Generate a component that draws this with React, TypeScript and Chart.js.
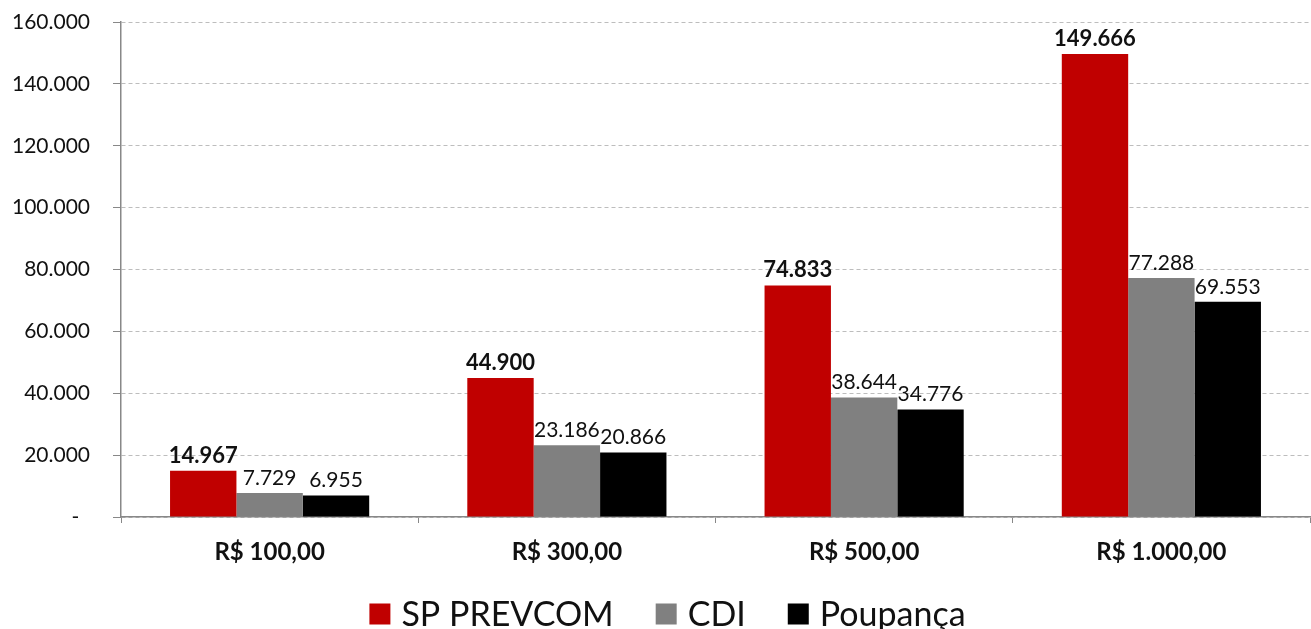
import React, { useEffect, useRef } from "react";
import { Chart, registerables } from "chart.js";

Chart.register(...registerables);

const categories = ["R$ 100,00", "R$ 300,00", "R$ 500,00", "R$ 1.000,00"];
const spPrevcom = [14967, 44900, 74833, 149666];
const cdi = [7729, 23186, 38644, 77288];
const poupanca = [6955, 20866, 34776, 69553];
const yTicks = [0, 20000, 40000, 60000, 80000, 100000, 120000, 140000, 160000];

const FONT = "Lato, 'Open Sans', sans-serif";

function fmt(v: number): string {
  const s = Math.round(v).toString();
  return s.replace(/\B(?=(\d{3})+(?!\d))/g, ".");
}

const labelPlugin = {
  id: "barLabels",
  afterDatasetsDraw(chart: any) {
    const ctx = chart.ctx;
    ctx.save();
    chart.data.datasets.forEach((ds: any, di: number) => {
      const meta = chart.getDatasetMeta(di);
      ctx.font = di === 0 ? "bold 22px " + FONT : "21px " + FONT;
      ctx.fillStyle = "#111";
      ctx.textAlign = "center";
      ctx.textBaseline = "alphabetic";
      meta.data.forEach((bar: any, i: number) => {
        ctx.fillText(fmt(ds.data[i]), bar.x, bar.y - 8);
      });
    });
    ctx.restore();
  },
};

const legendPlugin = {
  id: "customLegend",
  afterDraw(chart: any) {
    const ctx = chart.ctx;
    const box = 21;
    const gapText = 11;
    const gapItem = 42;
    ctx.save();
    ctx.font = "34px " + FONT;
    const items = chart.data.datasets.map((ds: any) => ({
      label: ds.label,
      color: ds.backgroundColor,
      w: ctx.measureText(ds.label).width,
    }));
    const total =
      items.reduce((a: number, it: any) => a + box + gapText + it.w, 0) +
      gapItem * (items.length - 1);
    const cx = chart.width / 2 + 12;
    let x = cx - total / 2;
    const yc = chart.height - 15;
    ctx.textBaseline = "middle";
    ctx.textAlign = "left";
    items.forEach((it: any) => {
      ctx.fillStyle = it.color;
      ctx.fillRect(x, yc - box / 2, box, box);
      ctx.fillStyle = "#111";
      ctx.fillText(it.label, x + box + gapText, yc + 1);
      x += box + gapText + it.w + gapItem;
    });
    ctx.restore();
  },
};

export default function App() {
  const ref = useRef<HTMLCanvasElement>(null);
  useEffect(() => {
    document.body.style.margin = "0";
    const chart = new Chart(ref.current!, {
      type: "bar",
      data: {
        labels: categories,
        datasets: [
          { label: "SP PREVCOM", data: spPrevcom, backgroundColor: "#C00000" },
          { label: "CDI", data: cdi, backgroundColor: "#808080" },
          { label: "Poupança", data: poupanca, backgroundColor: "#000000" },
        ],
      },
      options: {
        animation: false,
        responsive: false,
        maintainAspectRatio: false,
        layout: { autoPadding: false, padding: { top: 22, right: 1, left: 0, bottom: 47 } },
        datasets: { bar: { barPercentage: 1, categoryPercentage: 0.67 } },
        plugins: {
          tooltip: { enabled: false },
          legend: { display: false },
        },
        scales: {
          x: {
            grid: {
              offset: true,
              drawOnChartArea: false,
              drawTicks: true,
              tickLength: 6,
              color: "#888",
            },
            border: { display: true, color: "#888", width: 1.5 },
            ticks: {
              color: "#111",
              padding: 15,
              font: { family: FONT, size: 24, weight: "bold" },
            },
            afterFit: (s: any) => {
              s.height = 65;
              s.paddingLeft = 0;
              s.paddingRight = 0;
              s.paddingTop = 0;
              s.paddingBottom = 0;
            },
          },
          y: {
            min: 0,
            max: 160000,
            afterBuildTicks: (s: any) => {
              s.ticks = yTicks.map((v) => ({ value: v }));
            },
            grid: {
              color: "#bdbdbd",
              tickColor: "#888",
              tickLength: 8,
              lineWidth: 1,
              tickBorderDash: [1, 0],
            },
            border: { display: true, color: "#888", width: 1.5, dash: [4, 3] },
            ticks: {
              color: "#111",
              padding: 23,
              font: { family: FONT, size: 21 },
              callback: (v: any) => (Number(v) === 0 ? "-  " : fmt(Number(v))),
            },
            afterFit: (s: any) => {
              s.width = 121;
              s.paddingTop = 0;
              s.paddingBottom = 0;
              s.paddingLeft = 0;
              s.paddingRight = 0;
            },
          },
        },
      },
      plugins: [labelPlugin, legendPlugin],
    } as any);
    return () => chart.destroy();
  }, []);
  return <canvas ref={ref} width={1311} height={629} style={{ display: "block" }} />;
}
